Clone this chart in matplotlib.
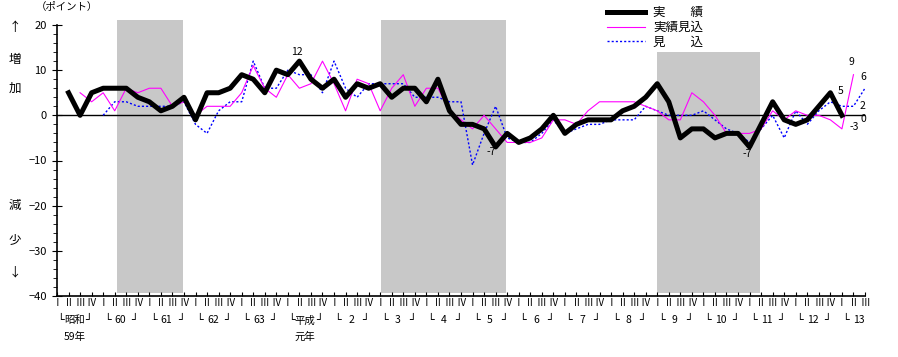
import numpy as np
import matplotlib
matplotlib.use("Agg")
import matplotlib.pyplot as plt

plt.rcParams['font.family'] = ['Noto Sans CJK JP', 'DejaVu Sans']

# quarters: index 0 = 昭和59年 I ... index 70 = 平成13年 III
years = ["昭和", "60", "61", "62", "63", "平成", "2", "3", "4", "5", "6", "7", "8", "9",
         "10", "11", "12", "13"]
quarters = ["Ⅰ", "Ⅱ", "Ⅲ", "Ⅳ"]

# 実績 (actual), starts at index 1
actual = [5, 0, 5, 6, 6, 6, 4, 3, 1, 2, 4, -1, 5, 5, 6, 9, 8, 5, 10, 9, 12, 8, 6, 8,
          4, 7, 6, 7, 4, 6, 6, 3, 8, 1, -2, -2, -3, -7, -4, -6, -5, -3, 0, -4, -2, -1,
          -1, -1, 1, 2, 4, 7, 3, -5, -3, -3, -5, -4, -4, -7, -2, 3, -1, -2, -1, 2, 5, 0]
# 実績見込, starts at index 2
expected = [5, 3, 5, 1, 6, 5, 6, 6, 2, 3, 0, 2, 2, 2, 5, 11, 6, 4, 9, 6, 7, 12, 7, 1,
            8, 7, 1, 6, 9, 2, 6, 6, 1, -1, -3, 0, -3, -6, -6, -6, -5, -1, -1, -2, 1, 3,
            3, 3, 3, 2, 1, -1, -1, 5, 3, 0, -4, -4, -4, -3, 1, -1, 1, 0, 0, -1, -3, 9]
# 見込, starts at index 4
forecast = [0, 3, 3, 2, 2, 2, 2, 3, -2, -4, 1, 3, 3, 12, 6, 6, 10, 9, 9, 5, 12, 6, 4,
            7, 7, 7, 7, 4, 4, 4, 3, 3, -11, -4, 2, -5, -6, -6, -4, -1, -4, -3, -2, -2,
            -1, -1, -1, 2, 1, 0, 0, 0, 1, -1, -3, -4, -6, -3, 0, -5, 1, -2, 1, 3, 2, 2, 6]

# recession periods (in quarter index)
recessions = [(5.2, 10.9, 21), (28.1, 38.9, 21), (52.0, 60.9, 14)]

x_act = np.arange(1, 1 + len(actual))
x_exp = np.arange(2, 2 + len(expected))
x_fc = np.arange(4, 4 + len(forecast))

fig = plt.figure(figsize=(8.98, 3.57), dpi=100)
ax = fig.add_axes([57 / 898, 61 / 357, 808 / 898, 271 / 357])

for x0, x1, top in recessions:
    ax.fill_between([x0, x1], -39.3, top, color='#c8c8c8', lw=0, clip_on=False, zorder=0)

ax.axhline(0, color='black', lw=1, zorder=1)

ax.plot(x_fc, forecast, color='#0000ff', lw=1, ls=(0, (1.5, 1.5)), zorder=2, label="見　　込")
ax.plot(x_exp, expected, color='#ff00ff', lw=0.8, zorder=3, label="実績見込")
ax.plot(x_act, actual, color='black', lw=3.6, zorder=4, label="実　　績")

ax.set_xlim(0, 70)
ax.set_ylim(-40, 20)
for s in ['top', 'right']:
    ax.spines[s].set_visible(False)
ax.spines['left'].set_linewidth(1.2)
ax.spines['bottom'].set_linewidth(1.2)

ax.set_yticks(np.arange(-40, 21, 10))
ax.set_yticks(np.arange(-40, 21, 2), minor=True)
ax.tick_params(axis='y', which='major', direction='inout', length=7, labelsize=8, pad=4)
ax.tick_params(axis='y', which='minor', direction='out', length=3)
ax.set_xticks(np.arange(0, 71))
ax.set_xticklabels([])
ax.tick_params(axis='x', which='major', direction='in', length=3)

# quarter / year labels below axis
trans = ax.get_xaxis_transform()
for k in range(71):
    ax.text(k, -0.027, quarters[k % 4], transform=trans, ha='center', va='center',
            fontsize=7)
for j, yl in enumerate(years):
    k0 = 4 * j
    ax.text(k0 + 1.5, -0.09, yl, transform=trans, ha='center', va='center', fontsize=7.5)
    ax.text(k0 + 0.05, -0.088, "└", transform=trans, ha='left', va='center', fontsize=8,
            family=['DejaVu Sans'])
    if j < len(years) - 1:
        ax.text(k0 + 3.05, -0.088, "┘", transform=trans, ha='right', va='center', fontsize=8,
                family=['DejaVu Sans'])
ax.text(1.5, -0.151, "59年", transform=trans, ha='center', va='center', fontsize=7.5)
ax.text(21.5, -0.151, "元年", transform=trans, ha='center', va='center', fontsize=7.5)

# left side captions
fig.text(36 / 898, 1 - 7 / 357, "（ポイント）", ha='left', va='center', fontsize=7.5)
for ch, yp in [("↑", 27), ("増", 60), ("加", 88), ("減", 205), ("少", 240), ("↓", 272)]:
    fig.text(15 / 898, 1 - yp / 357, ch, ha='center', va='center', fontsize=9)

# value labels
def note(xs, ys, i, dx, dy):
    ax.annotate(str(ys[i]), (xs[i], ys[i]), xytext=(dx, dy), textcoords='offset pixels',
                ha='center', va='center', fontsize=7.5)

note(x_act, actual, 20, -3, 9)
note(x_act, actual, 37, -4, -5)
note(x_act, actual, 59, -2, -7)
note(x_act, actual, 66, 10, 1.5)
note(x_act, actual, 67, 21, -4)
note(x_exp, expected, 67, -2, 12.5)
note(x_exp, expected, 66, 12, 1.5)
note(x_fc, forecast, 66, -2, 11)
note(x_fc, forecast, 65, 9.5, 0.5)

h, l = ax.get_legend_handles_labels()
leg = fig.legend(h[::-1], l[::-1], loc='upper left', bbox_to_anchor=(607 / 898, 1 - 6 / 357),
                 frameon=False, fontsize=9, handlelength=3.0, handletextpad=0.7,
                 labelspacing=0.15, borderpad=0, borderaxespad=0)

fig.savefig("out.png", dpi=100)
